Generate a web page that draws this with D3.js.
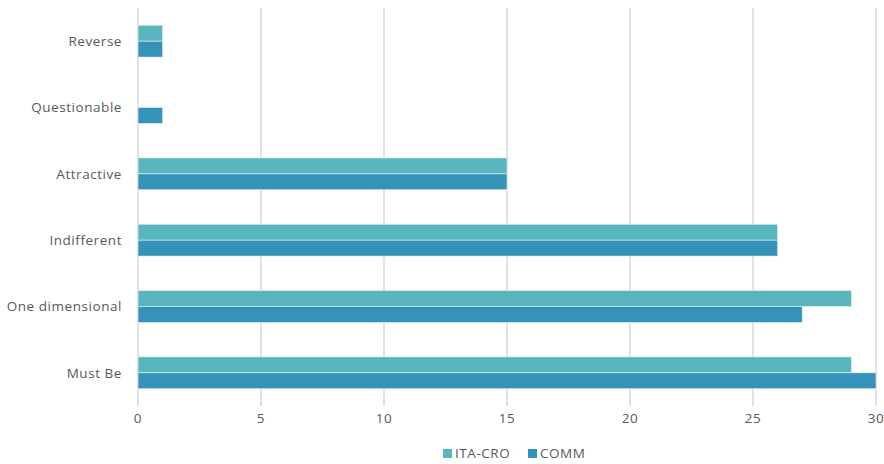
<!DOCTYPE html>
<html><head><meta charset="utf-8">
<script src="https://cdn.jsdelivr.net/npm/d3@7"></script>
<style>body{margin:0;background:#fff;} text{font-family:"Open Sans",sans-serif;letter-spacing:0.55px;}</style>
</head><body>
<svg id="c" width="884" height="464"></svg>
<script>
const categories = ["Reverse","Questionable","Attractive","Indifferent","One dimensional","Must Be"];
const seriesNames = ["ITA-CRO","COMM"];
const itaCro = [1,0,15,26,29,29];
const comm = [1,1,15,26,27,30];
const xTicks = [0,5,10,15,20,25,30];
const colors = ["#59B5BE","#3593BA"];

const svg = d3.select("#c");
const x = d3.scaleLinear().domain([0,30]).range([138,876]);
const y = d3.scaleBand().domain(categories).range([8,406]).paddingInner(0.52).paddingOuter(0.26);
const ys = d3.scaleBand().domain(seriesNames).range([0,y.bandwidth()]);

// gridlines
svg.append("g").selectAll("line").data(xTicks).join("line")
  .attr("x1",d=>x(d)).attr("x2",d=>x(d)).attr("y1",8).attr("y2",406)
  .attr("stroke","#d9d9d9").attr("stroke-width",1.5);

const data = [itaCro, comm];
data.forEach((vals,si)=>{
  svg.append("g").selectAll("rect").data(vals).join("rect")
    .attr("x",x(0)).attr("y",(d,i)=>y(categories[i])+ys(seriesNames[si]))
    .attr("width",d=>x(d)-x(0)).attr("height",ys.bandwidth())
    .attr("fill",colors[si]).attr("stroke","#e8f4f6").attr("stroke-width",d=>d>0?0.6:0);
});

// category labels
svg.append("g").selectAll("text").data(categories).join("text")
  .attr("x",122).attr("y",d=>y(d)+y.bandwidth()/2).attr("dy","0.35em")
  .attr("text-anchor","end").attr("fill","#595959").attr("font-size",13.5)
  .text(d=>d);

// x tick labels
svg.append("g").selectAll("text").data(xTicks).join("text")
  .attr("x",d=>x(d)).attr("y",423).attr("text-anchor","middle")
  .attr("fill","#595959").attr("font-size",13.5).text(d=>d);

// legend
const leg = svg.append("g");
const lx = [443,528];
seriesNames.forEach((n,i)=>{
  leg.append("rect").attr("x",lx[i]).attr("y",449).attr("width",9).attr("height",9).attr("fill",colors[i]);
  leg.append("text").attr("x",lx[i]+12).attr("y",458).attr("fill","#595959").attr("font-size",13.5).text(n);
});
</script>
</body></html>
